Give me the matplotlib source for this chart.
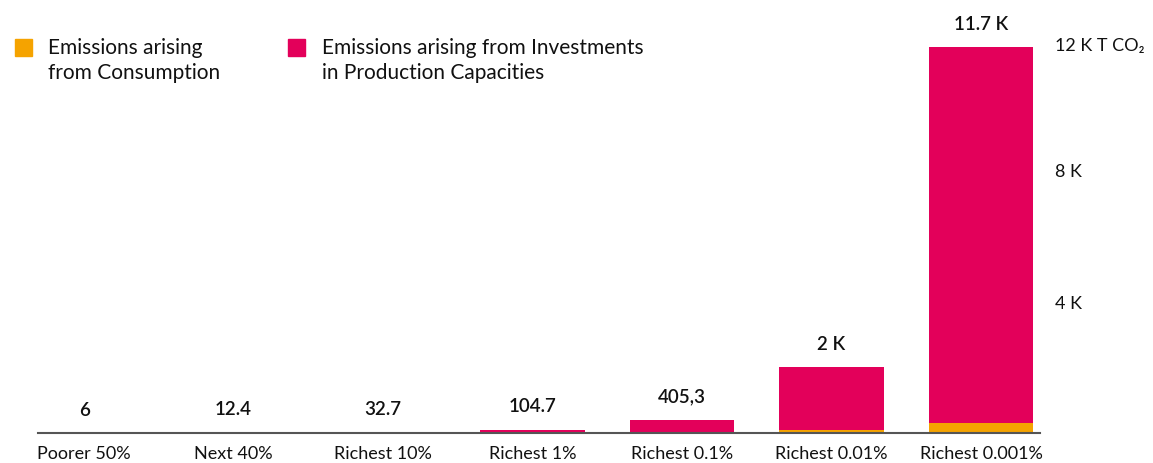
import matplotlib
matplotlib.use("Agg")
import matplotlib.pyplot as plt
from matplotlib.patches import Rectangle

plt.rcParams['font.family'] = ['Lato', 'DejaVu Sans']

# data
groups = ["Poorer 50%", "Next 40%", "Richest 10%", "Richest 1%",
          "Richest 0.1%", "Richest 0.01%", "Richest 0.001%"]
consumption = [5.5, 10, 15, 20, 35, 100, 300]
investment = [0.5, 2.4, 17.7, 84.7, 370.3, 1900, 11400]
totals_txt = ["6", "12.4", "32.7", "104.7", "405,3", "2 K", "11.7 K"]
yticks = [4000, 8000, 12000]
ytick_txt = ["4 K", "8 K", "12 K T CO\u2082"]

orange = "#F5A300"
pink = "#E3005A"

fig = plt.figure(figsize=(11.53, 4.64), dpi=100)
ax = fig.add_axes([0.033, 0.0647, 0.869, 0.853])

x = range(len(groups))
ax.bar(x, consumption, width=0.7, color=orange)
ax.bar(x, investment, width=0.7, bottom=consumption, color=pink)

for i in x:
    tot = consumption[i] + investment[i]
    ax.annotate(totals_txt[i], (i, tot), xytext=(0, 11), textcoords="offset points",
                ha="center", va="bottom", fontsize=13.5, fontweight="semibold", color="#111111")

ax.set_xlim(-0.308, 6.395)
ax.set_ylim(0, 12000)
ax.set_xticks(list(x))
ax.set_xticklabels(groups, fontsize=13, color="#111111")
ax.tick_params(axis="x", length=0, pad=9)

ax.yaxis.tick_right()
ax.set_yticks(yticks)
ax.set_yticklabels(ytick_txt, fontsize=13, color="#111111")
ax.tick_params(axis="y", length=0, pad=11)
ax.get_yticklabels()[2].set_va("top")

for s in ["top", "right", "left"]:
    ax.spines[s].set_visible(False)
ax.spines["bottom"].set_color("#555555")
ax.spines["bottom"].set_linewidth(1.5)

# legend
fig.add_artist(Rectangle((15/1153, 1-57/464), 17/1153, 17/464, color=orange, transform=fig.transFigure))
fig.text(48/1153, 1-38/464, "Emissions arising\nfrom Consumption", fontsize=15, va="top",
         color="#111111", linespacing=1.3)
fig.add_artist(Rectangle((288/1153, 1-57/464), 17/1153, 17/464, color=pink, transform=fig.transFigure))
fig.text(322/1153, 1-38/464, "Emissions arising from Investments\nin Production Capacities", fontsize=15,
         va="top", color="#111111", linespacing=1.3)

fig.savefig("out.png", dpi=100)
